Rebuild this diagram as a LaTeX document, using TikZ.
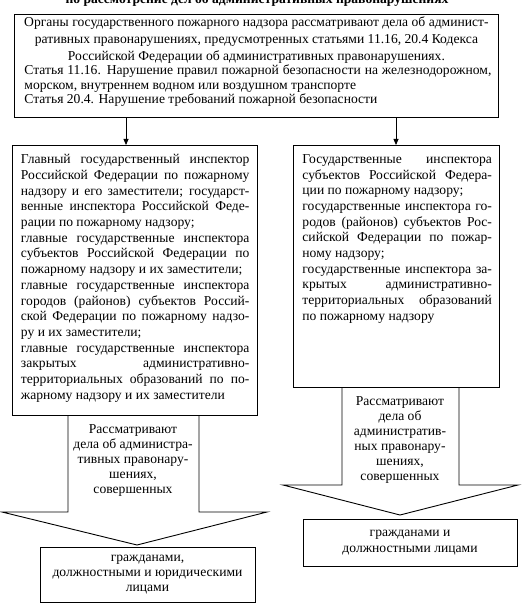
\documentclass[tikz,border=0pt]{standalone}
\usepackage{fontspec}
\setmainfont{Liberation Serif}
\usetikzlibrary{arrows.meta}
\newcommand\myboxsetup{\parindent=0pt\tolerance=10000\hyphenpenalty=10000\emergencystretch=0pt}
\begin{document}
\begin{tikzpicture}[x=1pt,y=-1pt,
  boxst/.style={draw, line width=0.9pt, inner sep=0pt, anchor=north west},
  arrowshape/.style={draw, line width=0.9pt},
  arr/.style={line width=0.8pt, -{Triangle[length=6pt,width=5pt]}},
  ctext/.style={align=center, font=\fontsize{13.6}{15}\selectfont, inner sep=0pt},
]
\useasboundingbox[fill=white] (0,0) rectangle (524,609);

% clipped title
\begin{scope}
\clip (0,0) rectangle (524,609);
\node[anchor=base, font=\bfseries\fontsize{13.6}{15}\selectfont, inner sep=0pt] (title) at (257,3.5)
  {по рассмотрение дел об административных правонарушениях};
\end{scope}

% top box
\node[boxst] (top) at (14,14) {\parbox[c][103pt][t]{484pt}{\myboxsetup
  \leftskip=10pt\rightskip=7pt
  \vspace*{2pt}%
  {\centering\fontsize{13.6}{17}\selectfont
  Органы государственного пожарного надзора рассматривают дела об админист-\\
  ративных правонарушениях, предусмотренных статьями 11.16, 20.4 Кодекса\\
  Российской Федерации об административных правонарушениях.\par}
  \fontsize{13.6}{14.5}\selectfont
  Статья 11.16. Нарушение правил пожарной безопасности на железнодорожном,\linebreak
  морском, внутреннем водном или воздушном транспорте\par
  Статья 20.4. Нарушение требований пожарной безопасности\par}};

% left box
\node[boxst] (lbox) at (12,145) {\parbox[c][270pt][t]{245pt}{\myboxsetup
  \leftskip=8.5pt\rightskip=8pt\fontsize{13.6}{15.7}\selectfont
  \vspace*{9pt}%
  Главный государственный инспектор\linebreak
  Российской Федерации по пожарному\linebreak
  надзору и его заместители; государст-\linebreak
  венные инспектора Российской Феде-\linebreak
  рации по пожарному надзору;\par
  главные государственные инспектора\linebreak
  субъектов Российской Федерации по\linebreak
  пожарному надзору и их заместители;\par
  главные государственные инспектора\linebreak
  городов (районов) субъектов Россий-\linebreak
  ской Федерации по пожарному надзо-\linebreak
  ру и их заместители;\par
  главные государственные инспектора\linebreak
  закрытых административно-\linebreak
  территориальных образований по по-\linebreak
  жарному надзору и их заместители\par}};

% right box
\node[boxst] (rbox) at (293,145) {\parbox[c][242pt][t]{206pt}{\myboxsetup
  \leftskip=9pt\rightskip=7.5pt\fontsize{13.6}{15.7}\selectfont
  \vspace*{9pt}%
  Государственные инспектора\linebreak
  субъектов Российской Федера-\linebreak
  ции по пожарному надзору;\par
  государственные инспектора го-\linebreak
  родов (районов) субъектов Рос-\linebreak
  сийской Федерации по пожар-\linebreak
  ному надзору;\par
  государственные инспектора за-\linebreak
  крытых административно-\linebreak
  территориальных образований\linebreak
  по пожарному надзору\par}};

% connectors from top box
\coordinate (ax1) at (126,0);
\coordinate (ax2) at (396,0);
\draw[arr] (ax1 |- top.south) -- (ax1 |- lbox.north);
\draw[arr] (ax2 |- top.south) -- (ax2 |- rbox.north);

% left block arrow
\draw[arrowshape] (68,415) -- (68,512) -- (2,512) -- (137,545) -- (267,512) -- (199,512) -- (199,415);
\node[ctext, anchor=north] (ltext) at (133,424)
  {Рассматривают\\дела об администра-\\тивных правонару-\\шениях,\\совершенных};

% right block arrow
\draw[arrowshape] (342,387) -- (342,485) -- (283,485) -- (400,515) -- (518,485) -- (459,485) -- (459,387);
\node[ctext, anchor=north] (rtext) at (400,396)
  {Рассматривают\\дела об\\административ-\\ных правонару-\\шениях,\\совершенных};

% bottom boxes
\node[draw, line width=0.9pt, minimum width=215pt, minimum height=55pt, ctext] (lbot) at (147.5,574.5)
  {гражданами,\\должностными и юридическими\\лицами};
\node[draw, line width=0.9pt, minimum width=214pt, minimum height=47pt, align=center,
  font=\fontsize{13.6}{16}\selectfont, inner sep=0pt] (rbot) at (410,542.5)
  {гражданами и\\должностными лицами};
\end{tikzpicture}
\end{document}
